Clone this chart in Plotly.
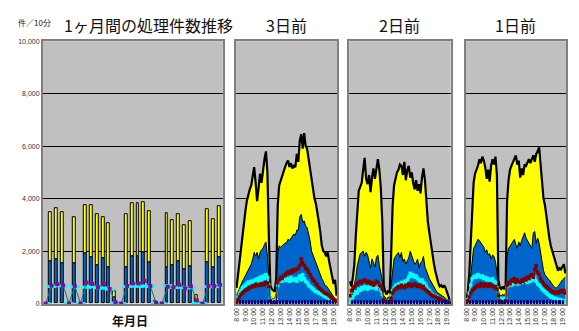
import plotly.graph_objects as go

# ---- monthly panel: 31 days ----
day_total = [0, 3495, 3630, 3470, 0, 3297, 0, 3730, 3730, 3410, 3310, 3075, 470, 0,
             3410, 3840, 3840, 3866, 3520, 100, 0, 3445, 3186, 3410, 2990, 3125, 310, 0,
             3594, 3223, 3705]
day_blue = [0, 1605, 1690, 1530, 0, 1530, 0, 1900, 1754, 1457, 1717, 1370, 250, 0,
            1383, 1790, 1790, 1950, 1580, 60, 0, 1383, 1457, 1605, 1297, 1420, 120, 0,
            1580, 1383, 1754]
day_magenta = [0, 680, 740, 690, 0, 670, 0, 800, 750, 620, 740, 555, 60, 0,
               670, 765, 765, 865, 670, 25, 0, 640, 620, 715, 580, 655, 120, 0,
               670, 655, 715]
day_cyan = [0, 650, 690, 680, 0, 640, 0, 620, 640, 600, 590, 540, 20, 0,
            650, 660, 660, 660, 650, 30, 0, 680, 610, 620, 600, 600, 20, 0,
            650, 640, 700]

# ---- intraday panels: 10-minute slots 8:00 .. 19:20 ----
hour_labels = ["8:00", "9:00", "10:00", "11:00", "12:00", "13:00", "14:00",
               "15:00", "16:00", "17:00", "18:00", "19:00"]

d3_total = [600, 1100, 1700, 2200, 2700, 3100, 3500, 3900, 4200, 4350, 4500, 4800, 5200, 4600,
            3900, 4400, 4950, 4600, 5100, 5500, 5800, 5000, 2500, 700, 550, 500, 450, 1000,
            3700, 4500, 4700, 4800, 5000, 5200, 5350, 5450, 5200, 5350, 5150, 5250, 5200, 5700,
            5400, 6200, 6450, 5900, 6500, 6000, 5900, 5500, 5100, 4700, 4450, 4000, 3800, 3350,
            3100, 2700, 2200, 2000, 1950, 1800, 1950, 1600, 1300, 1000, 750, 900, 300]
d3_blue = [300, 450, 600, 700, 850, 950, 1050, 1150, 1250, 1400, 1500, 1700, 1950, 1800,
           1950, 1700, 1950, 2050, 2100, 2250, 2350, 1800, 900, 300, 200, 180, 200, 400,
           1900, 2200, 2150, 2200, 2250, 2300, 2300, 2450, 2400, 2500, 2550, 2650, 2600, 2800,
           2800, 3300, 3400, 3100, 3150, 2950, 2900, 2700, 2400, 2000, 1850, 1700, 1550, 1400,
           1200, 1050, 950, 850, 700, 680, 600, 550, 450, 350, 250, 200, 100]
d3_cyan = [150, 250, 400, 500, 600, 650, 700, 750, 820, 780, 850, 800, 880, 900,
           950, 850, 1000, 900, 1050, 950, 1100, 1000, 700, 200, 100, 120, 100, 150,
           700, 850, 900, 850, 950, 900, 880, 950, 850, 1000, 880, 900, 950, 850,
           950, 1050, 900, 1100, 950, 850, 800, 700, 650, 600, 550, 500, 450, 450,
           400, 380, 350, 300, 280, 250, 220, 200, 180, 150, 120, 100, 80]
d3_red = [50, 150, 250, 350, 400, 450, 500, 520, 560, 600, 620, 680, 650, 720,
          680, 700, 740, 700, 760, 720, 800, 780, 650, 100, 30, 20, 30, 40,
          800, 900, 1000, 950, 1050, 1100, 1150, 1200, 1150, 1250, 1200, 1300, 1250, 1300,
          1350, 1450, 1700, 1550, 1450, 1350, 1300, 1200, 1100, 1000, 900, 850, 750, 700,
          600, 550, 500, 450, 400, 380, 350, 300, 250, 200, 150, 120, 80]

d2_total = [850, 650, 1000, 1500, 2600, 3600, 4300, 4450, 4600, 5100, 5550, 4750, 4550, 4900,
            4250, 4800, 5150, 4750, 5250, 5500, 5100, 4400, 3100, 700, 450, 350, 500, 400,
            1800, 3700, 4500, 4750, 5000, 5100, 5300, 5250, 4900, 5400, 4700, 5100, 5250, 4800,
            5000, 4600, 4350, 4700, 4300, 4550, 4200, 4800, 5150, 4700, 3700, 3100, 2700, 2250,
            1900, 1550, 1250, 950, 800, 650, 700, 600, 700, 600, 450, 300, 100]
d2_blue = [200, 250, 400, 650, 1000, 1450, 1700, 1900, 1950, 2000, 1800, 1950, 1850, 1600,
           1350, 1700, 1550, 1400, 1750, 1850, 1450, 1200, 900, 300, 200, 150, 250, 200,
           700, 1300, 1700, 1800, 1900, 1950, 1750, 1950, 1600, 1700, 1500, 1600, 1750, 2000,
           1800, 1650, 1500, 1550, 1700, 1350, 1550, 1600, 1800, 1400, 1200, 1100, 950, 850,
           700, 600, 550, 450, 400, 350, 300, 280, 250, 200, 150, 100, 50]
d2_cyan = [100, 150, 250, 350, 450, 400, 550, 500, 600, 550, 650, 600, 550, 650,
           600, 700, 600, 650, 550, 700, 650, 500, 350, 100, 80, 60, 100, 80,
           300, 500, 600, 700, 650, 750, 700, 800, 750, 850, 800, 900, 1000, 1150,
           1050, 1100, 1000, 1050, 950, 900, 850, 900, 800, 750, 650, 550, 500, 400,
           350, 300, 280, 250, 200, 180, 150, 150, 120, 100, 80, 60, 40]
d2_red = [300, 500, 600, 650, 700, 750, 800, 850, 800, 850, 900, 850, 800, 850,
          750, 800, 700, 750, 850, 800, 700, 650, 550, 150, 80, 60, 80, 60,
          200, 400, 500, 550, 600, 650, 600, 700, 650, 600, 700, 650, 750, 700,
          650, 700, 750, 700, 650, 700, 650, 600, 650, 550, 500, 450, 400, 350,
          300, 280, 250, 220, 200, 180, 150, 130, 110, 90, 70, 50, 30]

d1_total = [150, 450, 1100, 2300, 3800, 4600, 4950, 5100, 5250, 5500, 5350, 5600, 5450, 5200,
            4750, 5100, 4650, 5250, 5500, 5300, 5600, 4900, 900, 600, 550, 650, 550, 700,
            3900, 4700, 5100, 5250, 5400, 5500, 5650, 5300, 5450, 4800, 5150, 4900, 5300, 5250,
            5400, 5500, 5350, 5500, 5650, 5400, 5700, 5800, 5950, 5300, 4600, 4000, 3750, 3300,
            2900, 2500, 2200, 2000, 1800, 1550, 1400, 1250, 1350, 1300, 1400, 1500, 1150]
d1_blue = [100, 250, 550, 1000, 1600, 2100, 2200, 2350, 2450, 2400, 2300, 2200, 2150, 1950,
           2050, 1850, 1900, 1700, 1850, 1800, 1600, 1200, 500, 300, 300, 350, 300, 400,
           1800, 2100, 2200, 2300, 2400, 2450, 2250, 2100, 2350, 2200, 2400, 2550, 2700, 2500,
           2400, 2350, 2200, 2100, 2700, 2750, 2300, 2500, 2300, 1900, 1500, 1250, 1100, 1000,
           950, 900, 800, 700, 650, 600, 600, 650, 750, 850, 900, 950, 1000]
d1_cyan = [50, 150, 400, 700, 950, 1000, 1050, 1000, 1100, 1050, 1000, 1050, 950, 1000,
           900, 950, 850, 900, 950, 850, 800, 600, 300, 200, 150, 200, 150, 200,
           650, 700, 750, 700, 750, 800, 750, 800, 750, 850, 800, 850, 900, 850,
           800, 900, 850, 950, 900, 1000, 850, 750, 700, 650, 550, 500, 450, 400,
           350, 300, 250, 250, 200, 200, 180, 150, 150, 120, 120, 100, 100]
d1_red = [30, 100, 250, 400, 500, 550, 600, 650, 700, 650, 750, 700, 650, 750,
          700, 650, 750, 700, 650, 600, 650, 550, 300, 100, 50, 30, 50, 100,
          700, 800, 750, 900, 850, 950, 800, 900, 850, 800, 900, 850, 950, 900,
          1000, 950, 1050, 1100, 1000, 1300, 1450, 1200, 1100, 950, 850, 750, 700, 650,
          600, 550, 500, 450, 450, 400, 450, 400, 450, 500, 450, 500, 400]

panel_titles = ["3日前", "2日前", "1日前"]

BLUE = "#0066CC"
YELLOW = "#FFFF00"
CYAN = "#00FFFF"
DARKRED = "#800000"
MAGENTA = "#990099"
GRID = "#000000"
FRAME = "#808080"
BG = "#C0C0C0"
NARROW = "Liberation Sans Narrow, Liberation Sans, Arial"
JP = "Noto Sans CJK JP"

W, H = 579, 331
def px_x(a, b):
    return [a / W, b / W]

y_dom = [1 - 306 / H, 1 - 38 / H]
x_doms = [px_x(40, 221), px_x(234, 336), px_x(348, 450), px_x(465, 566)]

fig = go.Figure()

# monthly stacked bars + lines
days = list(range(len(day_total)))
day_yellow = [t - b for t, b in zip(day_total, day_blue)]
fig.add_trace(go.Bar(x=days, y=day_blue, marker=dict(color=BLUE, line=dict(color="black", width=1)),
                     width=0.5, offset=-0.4, xaxis="x", yaxis="y"))
fig.add_trace(go.Bar(x=days, y=day_yellow, base=day_blue,
                     marker=dict(color=YELLOW, line=dict(color="black", width=1)),
                     width=0.5, offset=-0.4, xaxis="x", yaxis="y"))
fig.add_trace(go.Scatter(x=days, y=day_cyan, mode="markers",
                         marker=dict(symbol="line-ew", size=7, line=dict(color=CYAN, width=3)),
                         xaxis="x", yaxis="y", cliponaxis=False))
fig.add_trace(go.Scatter(x=days, y=day_magenta, mode="lines+markers",
                         line=dict(color="#008080", width=1),
                         marker=dict(symbol="square", size=4, color=MAGENTA),
                         xaxis="x", yaxis="y", cliponaxis=False))

# intraday stacked areas
intraday = [
    (d3_total, d3_blue, d3_cyan, d3_red),
    (d2_total, d2_blue, d2_cyan, d2_red),
    (d1_total, d1_blue, d1_cyan, d1_red),
]
for k, (tot, blu, cya, red) in enumerate(intraday):
    xa, ya = f"x{k + 2}", f"y{k + 2}"
    slots = list(range(len(tot)))
    fig.add_trace(go.Scatter(x=slots, y=tot, mode="lines", fill="tozeroy", fillcolor=YELLOW,
                             line=dict(color="black", width=2.2), xaxis=xa, yaxis=ya))
    fig.add_trace(go.Scatter(x=slots, y=blu, mode="lines", fill="tozeroy", fillcolor=BLUE,
                             line=dict(color="black", width=1), xaxis=xa, yaxis=ya))
    fig.add_trace(go.Scatter(x=slots, y=cya, mode="lines+markers",
                             line=dict(color=CYAN, width=2),
                             marker=dict(symbol="square", size=3.5, color=CYAN),
                             xaxis=xa, yaxis=ya, cliponaxis=False))
    fig.add_trace(go.Scatter(x=slots, y=red, mode="lines+markers",
                             line=dict(color=DARKRED, width=1.2),
                             marker=dict(symbol="square", size=3.5, color=DARKRED),
                             xaxis=xa, yaxis=ya, cliponaxis=False))

layout = dict(
    width=W, height=H, margin=dict(l=0, r=0, t=0, b=0),
    paper_bgcolor="white", plot_bgcolor=BG, showlegend=False,
    barmode="overlay", bargap=0,
)

yaxis_common = dict(range=[0, 10000], dtick=2000, showgrid=True, gridcolor=GRID, gridwidth=1,
                    showline=True, linecolor=FRAME, linewidth=1.5, mirror=True,
                    zeroline=False, domain=y_dom, fixedrange=True)

layout["xaxis"] = dict(domain=x_doms[0], range=[-0.5, len(day_total) - 0.5], showticklabels=False,
                       ticks="", showgrid=False, zeroline=False, showline=True,
                       linecolor=FRAME, linewidth=1.5, mirror=True, anchor="y")
layout["yaxis"] = dict(yaxis_common, anchor="x", tickformat=",", ticks="",
                       tickfont=dict(family=NARROW, size=7, color="#333333"))

for k in range(3):
    n = len(intraday[k][0])
    layout[f"xaxis{k + 2}"] = dict(
        domain=x_doms[k + 1], range=[-0.5, n - 0.5], anchor=f"y{k + 2}",
        tickmode="array", tickvals=[6 * j for j in range(len(hour_labels))], ticktext=hour_labels,
        tickangle=-90, tickfont=dict(family=NARROW, size=7, color="#333333"),
        ticks="inside", ticklen=4, tickcolor="#000080", tickwidth=1.2,
        minor=dict(dtick=1, ticks="inside", ticklen=4, tickcolor="#000080", tickwidth=1.2),
        showgrid=False, zeroline=False, showline=True, linecolor=FRAME, linewidth=1.5, mirror=True,
    )
    layout[f"yaxis{k + 2}"] = dict(yaxis_common, anchor=f"x{k + 2}", showticklabels=False, ticks="")

ann = [
    dict(text="件／10分", x=13 / W, y=1 - 19 / H, xanchor="left", yanchor="middle",
         font=dict(family=JP, size=8, color="#222222")),
    dict(text="1ヶ月間の処理件数推移", x=146 / W, y=1 - 21 / H, xanchor="center", yanchor="middle",
         font=dict(family=JP, size=16, color="#111111")),
    dict(text="<b>年月日</b>", x=128 / W, y=1 - 323 / H, xanchor="center", yanchor="middle",
         font=dict(family=JP, size=12, color="#111111")),
]
for k, t in enumerate(panel_titles):
    cx = (x_doms[k + 1][0] + x_doms[k + 1][1]) / 2
    ann.append(dict(text=t, x=cx, y=1 - 21 / H, xanchor="center", yanchor="middle",
                    font=dict(family=JP, size=16, color="#111111")))
for a in ann:
    a.update(xref="paper", yref="paper", showarrow=False)
layout["annotations"] = ann

fig.update_layout(**layout)
fig.write_html("out.html")
